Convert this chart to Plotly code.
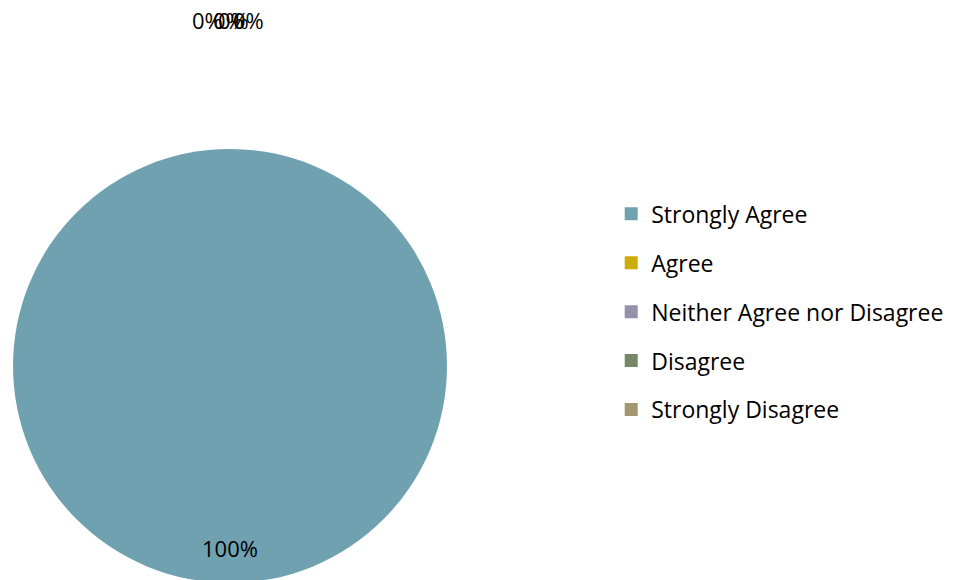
import math
import plotly.graph_objects as go

categories = ["Strongly Agree", "Agree", "Neither Agree nor Disagree", "Disagree", "Strongly Disagree"]
values = [100, 0, 0, 0, 0]
colors = ["#6FA1B0", "#CCAC0A", "#9590AB", "#768765", "#A39772"]

W, H = 959, 580
FONT = "Open Sans"

dom_x = [0.0052, 0.4578]
dom_y = [0.0088, 0.757]

fig = go.Figure()
fig.add_trace(go.Pie(
    labels=categories, values=values, marker=dict(colors=colors, line=dict(width=0)),
    sort=False, direction="clockwise", rotation=0, textinfo="none",
    showlegend=False, domain=dict(x=dom_x, y=dom_y), hoverinfo="label+percent",
))

# legend entries
for c, col in zip(categories, colors):
    fig.add_trace(go.Scatter(
        x=[None], y=[None], mode="markers", name=c, legendgroup=c,
        marker=dict(symbol="square", size=13, color=col),
    ))

# data labels positioned from slice angles
cx = (dom_x[0] + dom_x[1]) / 2 * W
cy = (1 - (dom_y[0] + dom_y[1]) / 2) * H
r = min((dom_x[1] - dom_x[0]) * W, (dom_y[1] - dom_y[0]) * H) / 2
total = sum(values)
cum = 0
zero_offsets = [-23, -2, 3, 18]
zi = 0
for v in values:
    pct = v / total * 100
    mid = (cum + v / 2) / total * 360
    cum += v
    if v > 0:
        d, dx = 0.84, 0
    else:
        d, dx = 1.594, zero_offsets[zi % len(zero_offsets)]
        zi += 1
    xp = cx + d * r * math.sin(math.radians(mid)) + dx
    yp = cy - d * r * math.cos(math.radians(mid))
    fig.add_annotation(
        x=xp / W, y=1 - yp / H, xref="paper", yref="paper",
        xanchor="center", yanchor="middle",
        text=f"{pct:.0f}%", showarrow=False,
        font=dict(family=FONT, size=22, color="#000000"),
    )

fig.update_layout(
    width=W, height=H, margin=dict(l=0, r=0, t=0, b=0),
    paper_bgcolor="white", plot_bgcolor="white",
    xaxis=dict(visible=False), yaxis=dict(visible=False),
    font=dict(family=FONT, size=23, color="#000000"),
    legend=dict(x=0.629, y=0.476, xanchor="left", yanchor="middle",
                tracegroupgap=16, font=dict(family=FONT, size=23),
                bgcolor="rgba(0,0,0,0)"),
)

fig.write_html("out.html")
